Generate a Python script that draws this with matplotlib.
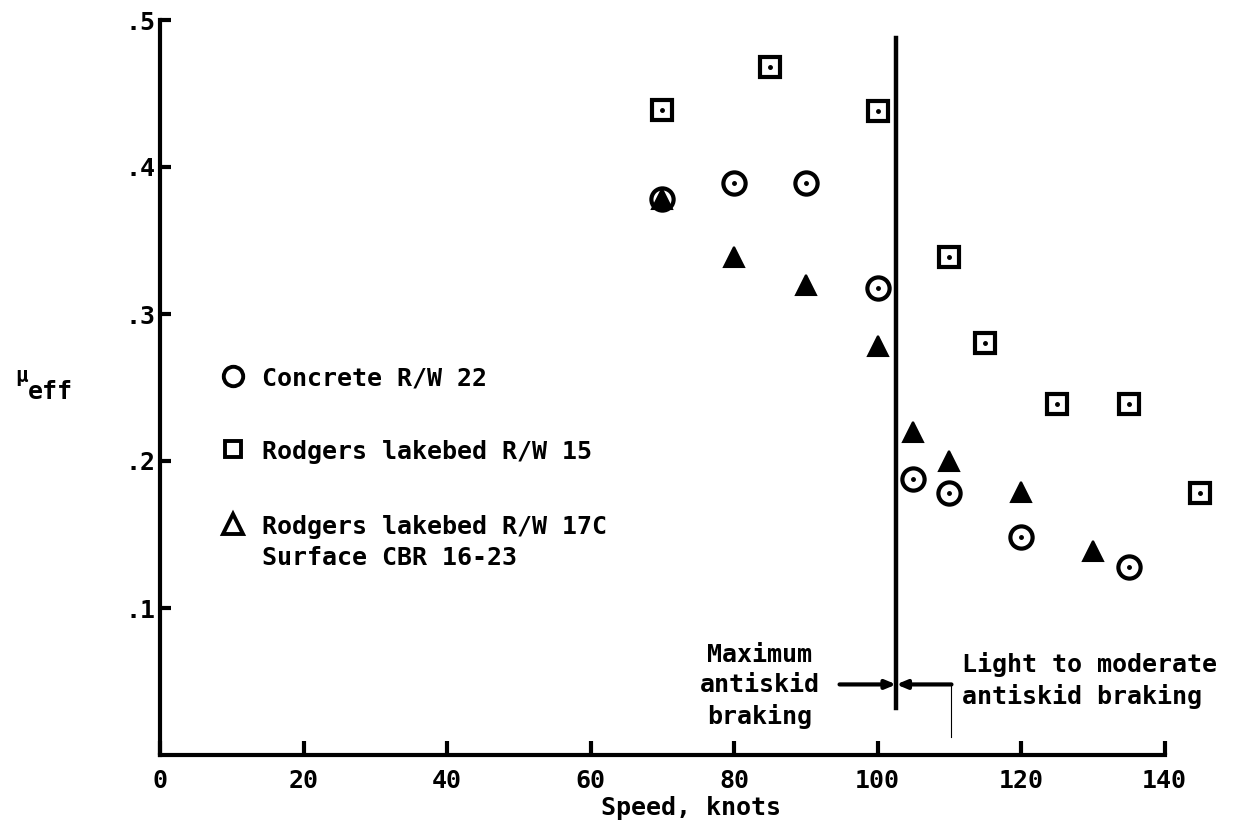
import matplotlib
matplotlib.use("Agg")
import matplotlib.pyplot as plt

# ── data ────────────────────────────────────────────────────────────────────
concrete_speed = [70, 80, 90, 100, 105, 110, 120, 135]
concrete_mu    = [0.378, 0.389, 0.389, 0.318, 0.188, 0.178, 0.148, 0.128]

rw15_speed = [70, 85, 100, 110, 115, 125, 135, 145]
rw15_mu    = [0.439, 0.468, 0.438, 0.339, 0.280, 0.239, 0.239, 0.178]

rw17_speed = [70, 80, 90, 100, 105, 110, 120, 130]
rw17_mu    = [0.378, 0.339, 0.320, 0.278, 0.220, 0.200, 0.179, 0.139]

x_ticks = [0, 20, 40, 60, 80, 100, 120, 140]
y_ticks = [0.1, 0.2, 0.3, 0.4, 0.5]
y_tick_labels = [".1", ".2", ".3", ".4", ".5"]

legend_labels = ["Concrete R/W 22", "Rodgers lakebed R/W 15",
                 "Rodgers lakebed R/W 17C"]
legend_extra = "Surface CBR 16-23"

boundary_speed = 102.6

FONT = "DejaVu Sans Mono"
plt.rcParams["font.family"] = FONT
plt.rcParams["font.weight"] = "bold"

fig = plt.figure(figsize=(12.33, 8.26), dpi=100)
ax = fig.add_axes([160 / 1233, 71 / 826, 1062 / 1233, 735 / 826])
ax.set_xlim(0, 148)
ax.set_ylim(0, 0.5)

for s in ["top", "right"]:
    ax.spines[s].set_visible(False)
for s in ["left", "bottom"]:
    ax.spines[s].set_linewidth(3)
ax.spines["bottom"].set_bounds(0, 140)
ax.spines["left"].set_bounds(0, 0.5)

ax.set_xticks(x_ticks)
ax.set_xticklabels([str(t) for t in x_ticks])
ax.set_yticks(y_ticks)
ax.set_yticklabels(y_tick_labels)
ax.tick_params(axis="x", direction="in", length=10, width=3, pad=10, labelsize=18)
ax.tick_params(axis="y", direction="in", length=8, width=3, pad=3, labelsize=18)
ax.set_xlabel("Speed, knots", fontsize=18, fontweight="bold", labelpad=2)

# ── data symbols ────────────────────────────────────────────────────────────
kw = dict(linestyle="none", clip_on=False, zorder=3)
ax.plot(concrete_speed, concrete_mu, marker="o", markersize=16, mfc="white",
        mec="black", mew=3, **kw)
ax.plot(concrete_speed, concrete_mu, marker=".", markersize=5, color="black", **kw)
ax.plot(rw15_speed, rw15_mu, marker="s", markersize=14, mfc="white",
        mec="black", mew=3, **kw)
ax.plot(rw15_speed, rw15_mu, marker=".", markersize=5, color="black", **kw)
ax.plot(rw17_speed, rw17_mu, marker="^", markersize=15, mfc="black",
        mec="black", mew=1.5, **kw)

# ── key ─────────────────────────────────────────────────────────────────────
key_y = [0.256, 0.206, 0.155]
key_markers = ["o", "s", "^"]
for y, m, lab in zip(key_y, key_markers, legend_labels):
    ax.plot([10.2], [y + 0.002], marker=m, markersize=14 if m != "s" else 12,
            mfc="white", mec="black", mew=2.8, linestyle="none")
    ax.text(14.2, y, lab, fontsize=18, fontweight="bold", ha="left", va="center")
ax.text(14.2, 0.134, legend_extra, fontsize=18, fontweight="bold",
        ha="left", va="center")

# ── braking regime boundary ─────────────────────────────────────────────────
ax.plot([boundary_speed, boundary_speed], [0.032, 0.488], color="black", lw=3.2)
arrow = dict(arrowstyle="-|>,head_length=0.6,head_width=0.25", lw=3, color="black",
             shrinkA=0, shrinkB=0)
ax.annotate("", xy=(boundary_speed, 0.048), xytext=(94.7, 0.048), arrowprops=arrow)
ax.annotate("", xy=(boundary_speed, 0.048), xytext=(110.3, 0.048), arrowprops=arrow)
ax.plot([110.3, 110.3], [0.012, 0.048], color="black", lw=0.8)

ax.text(83.6, 0.047, "Maximum\nantiskid\nbraking", fontsize=18, fontweight="bold",
        ha="center", va="center", linespacing=1.32)
ax.text(111.8, 0.051, "Light to moderate\nantiskid braking", fontsize=18,
        fontweight="bold", ha="left", va="center", linespacing=1.35)

# ── y label ─────────────────────────────────────────────────────────────────
fig.text(15 / 1233, 1 - 376 / 826, "μ", fontsize=15, fontweight="bold",
         ha="left", va="center")
fig.text(28 / 1233, 1 - 392 / 826, "eff", fontsize=18, fontweight="bold",
         ha="left", va="center")

fig.savefig("out.png", dpi=100)
